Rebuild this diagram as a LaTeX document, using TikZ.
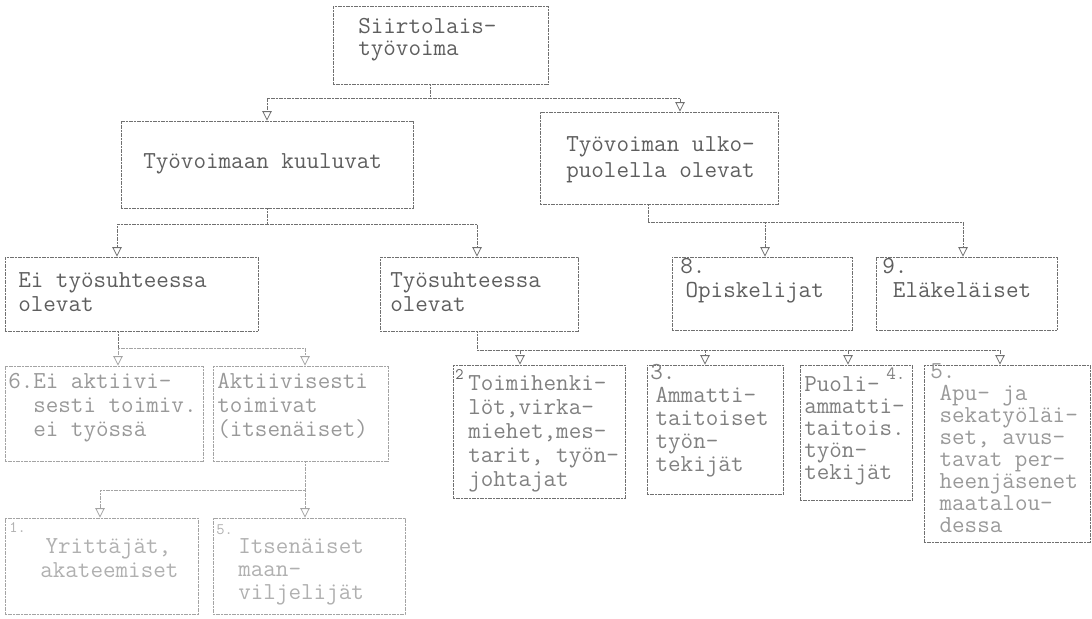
\documentclass[tikz,border=0pt]{standalone}
\usetikzlibrary{arrows.meta,fit,calc}
\definecolor{ink}{HTML}{5E5E5E}
\definecolor{lightink}{HTML}{808080}
\definecolor{faint}{HTML}{999999}
\definecolor{vfaint}{HTML}{B0B0B0}
\definecolor{edge}{HTML}{707070}
\definecolor{fedge}{HTML}{A4A4A4}
\begin{document}
\begin{tikzpicture}[x=0.75pt,y=-0.75pt,
  bx/.style={draw=edge, line width=0.65pt, dash pattern=on 1.4pt off 0.6pt, inner sep=0pt},
  fbx/.style={bx, draw=fedge},
  txt/.style={anchor=north west, inner sep=0pt, align=left, text=ink, font=\ttfamily\fontsize{18.3}{18}\selectfont},
  ltxt/.style={txt, text=lightink},
  ftxt/.style={txt, text=faint},
  vftxt/.style={txt, text=vfaint},
  num/.style={anchor=north west, inner sep=0pt, text=ink, font=\ttfamily\fontsize{12}{12}\selectfont},
  ln/.style={draw=edge, line width=0.65pt, dash pattern=on 1.4pt off 0.6pt},
  arr/.style={ln, -{Triangle[open, length=7pt, width=7pt, line width=0.6pt]}},
  fln/.style={ln, draw=fedge},
  farr/.style={arr, draw=fedge}]
\useasboundingbox (0,0) rectangle (1092,618);

% ---------- boxes ----------
\node[bx, fit={(333,6) (548,84)}] (A) {};
\node[bx, fit={(121,121) (413,208)}] (B) {};
\node[bx, fit={(540,112) (778,204)}] (C) {};
\node[bx, fit={(5,257) (258,331)}] (D) {};
\node[bx, fit={(380,257) (578,331)}] (E) {};
\node[bx, fit={(672,257) (852,330)}] (F) {};
\node[bx, fit={(876,257) (1057,330)}] (G) {};
\node[fbx, fit={(5,366) (203,461)}] (H) {};
\node[fbx, fit={(213,366) (388,461)}] (I) {};
\node[fbx, fit={(5,518) (198,614)}] (J) {};
\node[fbx, fit={(213,518) (405,614)}] (K) {};
\node[bx, fit={(453,365) (625,498)}] (L) {};
\node[bx, fit={(647,365) (783,494)}] (M) {};
\node[bx, fit={(800,365) (912,500)}] (N) {};
\node[bx, fit={(924,365) (1090,542)}] (O) {};

% ---------- texts ----------
\node[txt, font=\ttfamily\fontsize{18.3}{16.5}\selectfont] (At) at (358,18) {\strut Siirtolais-\\työvoima};
\node[txt] (Bt) at (143,151) {\strut Työvoimaan kuuluvat};
\node[txt, font=\ttfamily\fontsize{18.3}{19.5}\selectfont] (Ct) at (566,133) {\strut Työvoiman ulko-\\puolella olevat};
\node[txt] (Dt) at (18,270) {\strut Ei työsuhteessa\\olevat};
\node[txt] (Et) at (390,270) {\strut Työsuhteessa\\olevat};
\node[txt] (Ft) at (680,256) {\strut 8.\\\hspace*{4pt}Opiskelijat};
\node[txt] (Gt) at (882,256) {\strut 9.\\\hspace*{8pt}Eläkeläiset};
\node[ftxt] (Hn) at (8,371) {\strut 6.};
\node[ftxt] (Ht) at (33,371) {\strut Ei aktiivi-\\sesti toimiv.\\ei työssä};
\node[ftxt] (It) at (217,371) {\strut Aktiivisesti\\toimivat\\(itsenäiset)};
\node[num, text=vfaint] (Jn) at (9,522) {1.};
\node[vftxt] (Jt) at (40,536) {\strut \hspace*{4pt}Yrittäjät,\\akateemiset};
\node[num, text=vfaint] (Kn) at (216,524) {5.};
\node[vftxt, font=\ttfamily\fontsize{18.3}{17.25}\selectfont] (Kt) at (238,537) {\strut Itsenäiset\\maan-\\viljelijät};
\node[num] (Ln) at (455,369) {2};
\node[ltxt] (Lt) at (468,373) {\strut Toimihenki-\\löt,virka-\\miehet,mes-\\tarit, työn-\\johtajat};
\node[ltxt, font=\ttfamily\fontsize{18.3}{17.25}\selectfont] (Mt) at (650,363) {\strut 3.\\\hspace*{4pt}Ammatti-\\\hspace*{4pt}taitoiset\\\hspace*{4pt}työn-\\\hspace*{4pt}tekijät};
\node[ltxt, font=\ttfamily\fontsize{18.3}{16.5}\selectfont] (Nt) at (804,376) {\strut Puoli-\\ammatti-\\taitois.\\työn-\\tekijät};
\node[num, text=lightink, font=\ttfamily\fontsize{14}{14}\selectfont] (Nn) at (886,368) {4.};
\node[ftxt, font=\ttfamily\fontsize{18.3}{16.5}\selectfont] (Ot) at (930,363) {\strut 5.\\\hspace*{7pt}Apu- ja\\\hspace*{7pt}sekatyöläi-\\\hspace*{7pt}set, avus-\\\hspace*{7pt}tavat per-\\\hspace*{7pt}heenjäsenet\\\hspace*{7pt}maatalou-\\\hspace*{7pt}dessa};

% ---------- junction coordinates ----------
\coordinate (jA) at (430,98);
\coordinate (jB) at (267,224);
\coordinate (jC) at (648,222);
\coordinate (jD) at (118,348);
\coordinate (jE) at (477,350);
\coordinate (jI) at (305,490);
\coordinate (xC) at (680,0);
\coordinate (xD) at (117,0);
\coordinate (xF) at (765,0);
\coordinate (xG) at (963,0);
\coordinate (xH) at (118,0);
\coordinate (xI) at (305,0);
\coordinate (xL) at (520,0);
\coordinate (xM) at (705,0);
\coordinate (xN) at (848,0);
\coordinate (xO) at (1000,0);
\coordinate (xJ) at (100,0);

% ---------- connectors ----------
\draw[ln] (A.south -| jA) -- (jA);
\draw[arr] (jA) -| (B.north);
\draw[arr] (jA) -| (C.north -| xC);

\draw[ln] (B.south) -- (jB);
\draw[arr] (jB) -| (D.north -| xD);
\draw[arr] (jB) -| (E.north -| jE);

\draw[ln] (C.south -| jC) -- (jC);
\draw[arr] (jC) -| (F.north -| xF);
\draw[arr] (jC) -| (G.north -| xG);

\draw[ln] (D.south -| jD) -- (jD);
\draw[farr] (jD) -- (H.north -| xH);
\draw[farr] (jD) -| (I.north -| xI);

\draw[ln] (E.south -| jE) -- (jE);
\draw[arr] (jE) -| (L.north -| xL);
\draw[arr] (jE) -| (M.north -| xM);
\draw[arr] (jE) -| (N.north -| xN);
\draw[arr] (jE) -| (O.north -| xO);

\draw[fln] (I.south -| jI) -- (jI);
\draw[farr] (jI) -- (K.north -| jI);
\draw[farr] (jI) -| (J.north -| xJ);
\end{tikzpicture}
\end{document}
